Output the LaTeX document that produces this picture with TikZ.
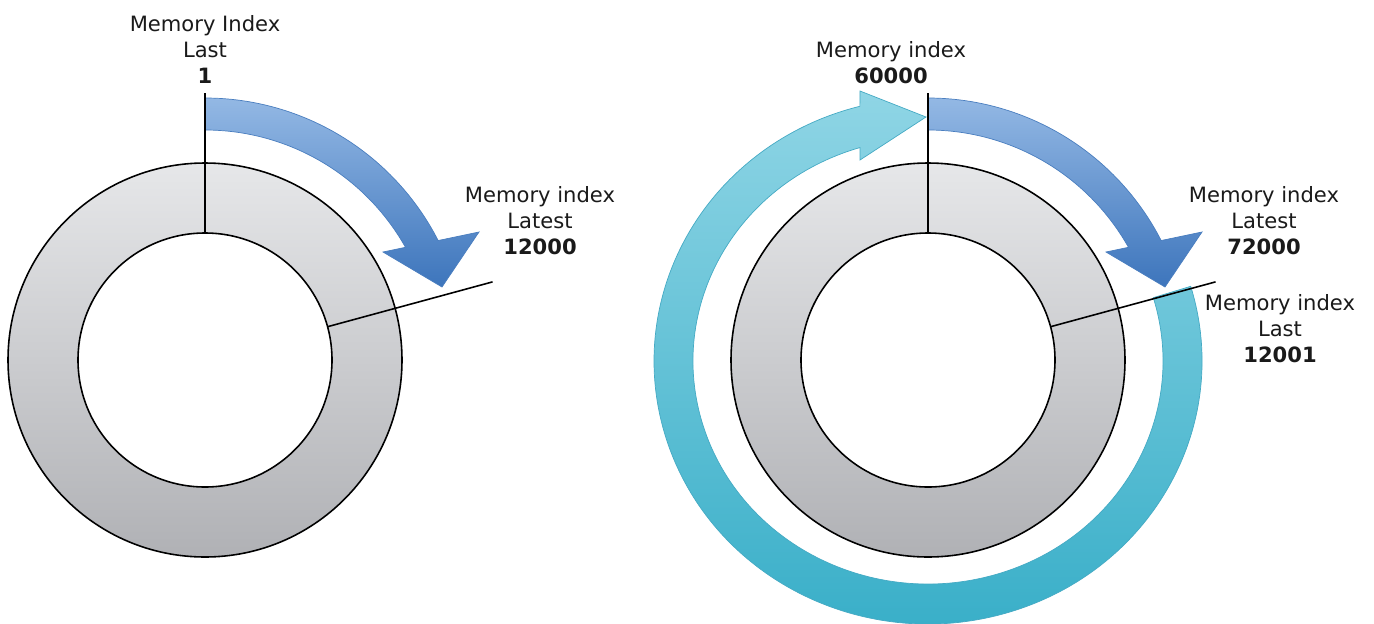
\documentclass[tikz,border=0pt]{standalone}
\usepackage{fontspec}
\setmainfont{DejaVu Sans}
\usetikzlibrary{calc}
\definecolor{ringTop}{HTML}{E6E7E9}
\definecolor{ringBot}{HTML}{B0B1B5}
\definecolor{blueTop}{HTML}{93B8E4}
\definecolor{blueBot}{HTML}{3D75BC}
\definecolor{blueEdge}{HTML}{4A7EBF}
\definecolor{cyanTop}{HTML}{8FD5E5}
\definecolor{cyanBot}{HTML}{35ADC7}
\definecolor{cyanEdge}{HTML}{45AAC4}
\definecolor{textcol}{HTML}{1A1A1A}
\begin{document}
\begin{tikzpicture}[x={(0.02cm,0)}, y={(0,-0.02cm)},
  ringline/.style={line width=0.9pt, black},
  memlabel/.style={font=\fontsize{12}{14.7}\selectfont, text=textcol,
    align=center, inner sep=0pt, anchor=north},
  bluearrow/.style={top color=blueTop, bottom color=blueBot, draw=blueEdge, line width=0.4pt},
  cyanarrow/.style={top color=cyanTop, bottom color=cyanBot, draw=cyanEdge, line width=0.4pt}]
\useasboundingbox (0,0) rectangle (1374,623);

% centres of the two buffers and of the wrap-around arrow
\coordinate (cl) at (205,360);
\coordinate (cr) at (928,360);
\coordinate (cc) at (928,361);

% wrap-around arrow round the right buffer
\shade[cyanarrow]
  ($(cc)+(-16.5:274 and 263)$) arc[start angle=-16.5, end angle=255.6, x radius=274, y radius=263]
  -- (860,91) -- (926,117) -- (860,160)
  -- ($(cc)+(253.2:235 and 223)$) arc[start angle=253.2, end angle=-16.5, x radius=235, y radius=223]
  -- cycle;

% the two ring buffers, each with its fill arrow and markers
\foreach \cen in {cl,cr}{
  \shade[top color=ringTop, bottom color=ringBot] (\cen) circle[radius=197];
  \fill[white] (\cen) circle[radius=127];
  \draw[ringline] (\cen) circle[radius=197];
  \draw[ringline] (\cen) circle[radius=127];
  \shade[bluearrow]
    ($(\cen)+(-90:262)$) arc[start angle=-90, end angle=-27.13, radius=262]
    -- ($(\cen)+(274,-128)$) -- ($(\cen)+(237,-73)$) -- ($(\cen)+(178,-108)$)
    -- ($(\cen)+(-29.34:230)$) arc[start angle=-29.34, end angle=-90, radius=230]
    -- cycle;
  \draw[ringline] ($(\cen)+(0,-267)$) -- ($(\cen)+(0,-127)$);
  \draw[ringline] ($(\cen)+(-15.2:127)$) -- ($(\cen)+(-15.2:298)$);
}

% labels
\node[memlabel] (l1) at (205,15) {Memory Index\\Last\\\textbf{1}};
\node[memlabel] (l2) at (540,186) {Memory index\\Latest\\\textbf{12000}};
\node[memlabel] (r1) at (891,41) {Memory index\\\textbf{60000}};
\node[memlabel] (r2) at (1264,186) {Memory index\\Latest\\\textbf{72000}};
\node[memlabel] (r3) at (1280,294) {Memory index\\Last\\\textbf{12001}};
\end{tikzpicture}
\end{document}
